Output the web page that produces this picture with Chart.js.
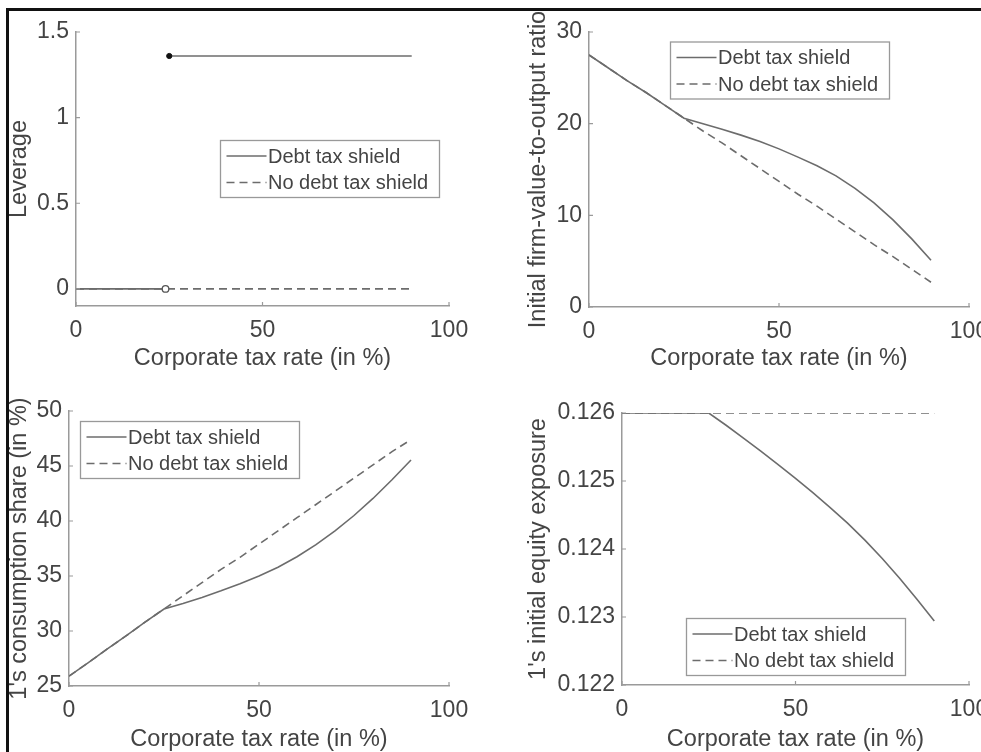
<!DOCTYPE html>
<html><head><meta charset="utf-8">
<script src="https://cdn.jsdelivr.net/npm/chart.js@4/dist/chart.umd.min.js"></script>
<style>
html,body{margin:0;padding:0;background:#fff;width:981px;height:752px;overflow:hidden;position:relative;}
canvas{position:absolute;left:0;top:0;}
.bt{position:absolute;left:6px;top:8px;width:1000px;height:3px;background:#111;z-index:10}
.bl{position:absolute;left:6px;top:8px;width:3px;height:800px;background:#111;z-index:10}
</style></head><body>
<canvas id="c1" width="1000" height="760"></canvas>
<canvas id="c2" width="1000" height="760"></canvas>
<canvas id="c3" width="1000" height="760"></canvas>
<canvas id="c4" width="1000" height="760"></canvas>
<div class="bt"></div><div class="bl"></div>
<script>
// ---------- data ----------
const xTicks = [0, 50, 100];
const xLabel = "Corporate tax rate (in %)";
const seriesNames = ["Debt tax shield", "No debt tax shield"];

// panel 1: leverage
const lev_debtLow_x = [0, 24];
const lev_debtLow_y = [0, 0];
const lev_debtHigh_x = [25, 90];
const lev_debtHigh_y = [1.36, 1.36];
const lev_noDebt_x = [0, 90];
const lev_noDebt_y = [0, 0];
const yTicks1 = [0, 0.5, 1, 1.5];

// common tax grid for panels 2-4
const taxRate = [0,5,10,15,20,25,30,35,40,45,50,55,60,65,70,75,80,85,90];

// panel 2: initial firm-value-to-output ratio
const fv_debt   = [27.5,26.1,24.7,23.4,22.0,20.6,20.0,19.4,18.75,18.05,17.25,16.35,15.4,14.3,12.95,11.35,9.5,7.4,5.1];
const fv_noDebt = [27.5,26.1,24.7,23.4,22.0,20.6,19.2,17.9,16.5,15.1,13.7,12.3,11.0,9.6,8.2,6.8,5.5,4.1,2.7];
const yTicks2 = [0, 10, 20, 30];

// panel 3: 1's consumption share (in %)
const cs_debt   = [25.9,27.1,28.35,29.55,30.8,32.0,32.5,33.05,33.65,34.3,35.0,35.8,36.75,37.85,39.1,40.5,42.05,43.75,45.55];
const cs_noDebt = [25.9,27.1,28.35,29.55,30.8,32.0,33.2,34.4,35.6,36.7,37.9,39.1,40.3,41.5,42.7,43.9,45.1,46.3,47.4];
const yTicks3 = [25, 30, 35, 40, 45, 50];

// panel 4: 1's initial equity exposure
const ee_debt   = [0.126,0.126,0.126,0.126,0.126,0.126,0.12582,0.12563,0.12544,0.12524,0.12504,0.12483,0.12461,0.12438,0.12413,0.12386,0.12357,0.12326,0.12294];
const ee_noDebt = [0.126,0.126,0.126,0.126,0.126,0.126,0.126,0.126,0.126,0.126,0.126,0.126,0.126,0.126,0.126,0.126,0.126,0.126,0.126];
const yTicks4 = [0.122, 0.123, 0.124, 0.125, 0.126];

// ---------- styles ----------
const FONT = "'Liberation Sans', Arial, Helvetica, sans-serif";
const TXT = '#444';
const AX = '#9a9a9a';
const LINE = '#6c6c6c';
const DASH = [8, 5];
const W = 1000, H = 760;

function pts(xs, ys) { return xs.map((x, i) => ({x: x, y: ys[i]})); }

const inTicks = {
  id: 'inTicks',
  afterDatasetsDraw(chart) {
    const {ctx, chartArea: a, scales: {x, y}} = chart;
    ctx.save(); ctx.strokeStyle = AX; ctx.lineWidth = 1.2; ctx.beginPath();
    x.ticks.forEach(t => { const p = x.getPixelForValue(t.value); ctx.moveTo(p, a.bottom); ctx.lineTo(p, a.bottom - 4); });
    y.ticks.forEach(t => { const p = y.getPixelForValue(t.value); ctx.moveTo(a.left, p); ctx.lineTo(a.left + 4, p); });
    ctx.stroke(); ctx.restore();
  }
};
const yTitle = {
  id: 'yTitle',
  afterDraw(chart, args, o) {
    const {ctx, chartArea: a} = chart;
    ctx.save();
    ctx.translate(o.x, (a.top + a.bottom) / 2);
    ctx.rotate(-Math.PI / 2);
    ctx.font = '23.5px ' + FONT; ctx.fillStyle = TXT; ctx.textAlign = 'center'; ctx.textBaseline = 'middle';
    ctx.fillText(o.text, 0, 0);
    ctx.restore();
  }
};
const mLegend = {
  id: 'mLegend',
  afterDraw(chart, args, o) {
    const {ctx} = chart;
    const L = o.left, T = o.top, Wd = 219, Hd = 57;
    ctx.save();
    ctx.fillStyle = '#fff'; ctx.fillRect(L, T, Wd, Hd);
    ctx.strokeStyle = '#999'; ctx.lineWidth = 1.3; ctx.strokeRect(L, T, Wd, Hd);
    ctx.font = '20px ' + FONT; ctx.fillStyle = TXT; ctx.textBaseline = 'middle'; ctx.textAlign = 'left';
    const rows = [T + 15.5, T + 42];
    seriesNames.forEach((name, i) => {
      ctx.strokeStyle = LINE; ctx.lineWidth = 1.6; ctx.setLineDash(i === 1 ? DASH : []);
      ctx.beginPath(); ctx.moveTo(L + 6, rows[i]); ctx.lineTo(L + 46, rows[i]); ctx.stroke();
      ctx.fillText(name, L + 47.5, rows[i] + 1);
    });
    ctx.restore();
  }
};

function makeChart(id, o) {
  const A = o.area;
  const xBoxBottom = o.xTitleY + 14;
  const yBoxLeft = A.l - 75;
  const tickFont = {family: FONT, size: 23};
  new Chart(document.getElementById(id), {
    type: 'line',
    data: {datasets: o.datasets},
    options: {
      responsive: false, animation: false, events: [],
      layout: {padding: {left: yBoxLeft, top: A.t, right: W - A.r, bottom: H - xBoxBottom}},
      plugins: {
        legend: {display: false}, tooltip: {enabled: false},
        yTitle: {text: o.yLabel, x: o.yTitleX},
        mLegend: {left: o.legend[0], top: o.legend[1]}
      },
      scales: {
        x: {
          type: 'linear', min: 0, max: 100,
          afterBuildTicks: s => { s.ticks = xTicks.map(v => ({value: v})); },
          afterFit: s => { s.height = xBoxBottom - A.b; },
          grid: {display: true, color: 'rgba(0,0,0,0)', drawOnChartArea: false, drawTicks: false},
          border: {display: true, color: AX, width: 1.5},
          ticks: {padding: 11, font: tickFont, color: TXT, maxRotation: 0, callback: v => String(v)},
          title: {display: true, text: xLabel, font: {family: FONT, size: 23.5}, color: TXT, padding: 0}
        },
        y: {
          type: 'linear', min: o.yMin, max: o.yMax,
          afterBuildTicks: s => { s.ticks = o.yTicks.map(v => ({value: v})); },
          afterFit: s => { s.width = A.l - yBoxLeft; },
          grid: {display: true, color: 'rgba(0,0,0,0)', drawOnChartArea: false, drawTicks: false},
          border: {display: true, color: AX, width: 1.5},
          ticks: {padding: 7, font: tickFont, color: TXT, callback: v => String(v)}
        }
      }
    },
    plugins: [inTicks, yTitle, mLegend]
  });
}

const solid = {borderColor: LINE, borderWidth: 1.6, pointRadius: 0, fill: false, tension: 0};
const dashed = {borderColor: LINE, borderWidth: 1.6, pointRadius: 0, fill: false, tension: 0, borderDash: DASH};

// panel 1
makeChart('c1', {
  area: {l: 76, t: 32, r: 449, b: 306}, xTitleY: 359, yTitleX: 20,
  yMin: -0.1, yMax: 1.5, yTicks: yTicks1, yLabel: 'Leverage', legend: [220.5, 140.5],
  datasets: [
    {label: 'jump-start', data: pts([lev_debtHigh_x[0]], [lev_debtHigh_y[0]]), showLine: false, pointRadius: 2.6, pointBackgroundColor: '#111', pointBorderColor: '#111', pointBorderWidth: 1},
    {label: 'jump-end', data: pts([lev_debtLow_x[1]], [lev_debtLow_y[1]]), showLine: false, pointRadius: 3.3, pointBackgroundColor: '#fff', pointBorderColor: '#555', pointBorderWidth: 1.3},
    Object.assign({label: seriesNames[0], data: pts(lev_debtLow_x, lev_debtLow_y)}, solid),
    Object.assign({label: seriesNames[0] + ' ', data: pts(lev_debtHigh_x, lev_debtHigh_y)}, solid),
    Object.assign({label: seriesNames[1], data: pts(lev_noDebt_x, lev_noDebt_y)}, dashed)
  ]
});
// panel 2
makeChart('c2', {
  area: {l: 589, t: 32, r: 969, b: 307}, xTitleY: 359, yTitleX: 539,
  yMin: 0, yMax: 30, yTicks: yTicks2, yLabel: 'Initial firm-value-to-output ratio', legend: [670.5, 42],
  datasets: [
    Object.assign({label: seriesNames[0], data: pts(taxRate, fv_debt)}, solid),
    Object.assign({label: seriesNames[1], data: pts(taxRate, fv_noDebt)}, dashed)
  ]
});
// panel 3
makeChart('c3', {
  area: {l: 69, t: 411, r: 449, b: 686}, xTitleY: 740, yTitleX: 20,
  yMin: 25, yMax: 50, yTicks: yTicks3, yLabel: "1's consumption share (in %)", legend: [80.5, 421.5],
  datasets: [
    Object.assign({label: seriesNames[0], data: pts(taxRate, cs_debt)}, solid),
    Object.assign({label: seriesNames[1], data: pts(taxRate, cs_noDebt)}, dashed)
  ]
});
// panel 4
makeChart('c4', {
  area: {l: 622, t: 413, r: 969, b: 685}, xTitleY: 740, yTitleX: 539,
  yMin: 0.122, yMax: 0.126, yTicks: yTicks4, yLabel: "1's initial equity exposure", legend: [686.5, 618.5],
  datasets: [
    Object.assign({label: seriesNames[0], data: pts(taxRate, ee_debt)}, solid),
    Object.assign({label: seriesNames[1], data: pts(taxRate, ee_noDebt)}, dashed)
  ]
});
</script>
</body></html>
